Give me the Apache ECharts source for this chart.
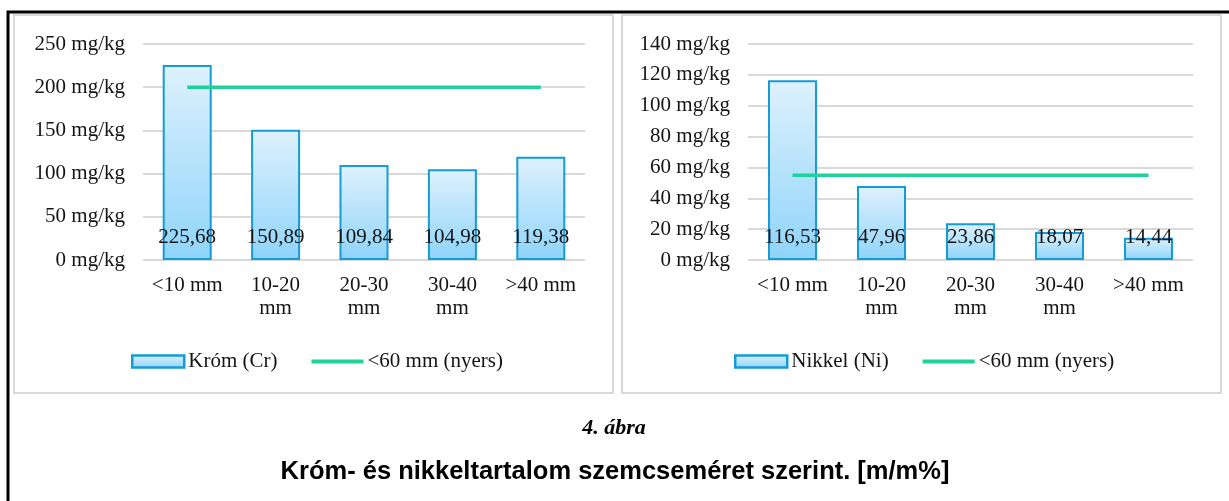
<!DOCTYPE html>
<html>
<head>
<meta charset="utf-8">
<script src="https://cdn.jsdelivr.net/npm/echarts@6/dist/echarts.min.js"></script>
<style>
html,body{margin:0;padding:0;background:#fff;}
#chart{width:1229px;height:501px;}
</style>
</head>
<body>
<div id="chart"></div>
<script>
// ---- data ----
const categories = ['<10 mm', '10-20\nmm', '20-30\nmm', '30-40\nmm', '>40 mm'];
const chromium = [225.68, 150.89, 109.84, 104.98, 119.38];
const chromiumRef = [200, 200, 200, 200, 200];
const nickel = [116.53, 47.96, 23.86, 18.07, 14.44];
const nickelRef = [55, 55, 55, 55, 55];
const leftTicks = { min: 0, max: 250, interval: 50 };
const rightTicks = { min: 0, max: 140, interval: 20 };
const seriesNames = { cr: 'Króm (Cr)', ni: 'Nikkel (Ni)', ref: '<60 mm (nyers)' };
const captionLabel = '4. ábra';
const captionTitle = 'Króm- és nikkeltartalom szemcseméret szerint. [m/m%]';

// ---- styles ----
const serif = '"Liberation Serif", "Times New Roman", serif';
const fs = 21;
const txt = '#141414';
const barGrad = new echarts.graphic.LinearGradient(0, 0, 0, 1, [
  { offset: 0, color: '#def1fd' },
  { offset: 1, color: '#8fd4fa' }
]);
const barItem = { color: barGrad, borderColor: '#159bd8', borderWidth: 2 };
const greenLine = { color: '#1fd29a', width: 3.5 };
const fmt = v => v.toFixed(2).replace('.', ',');

function xAxis(gi) {
  return {
    type: 'category', gridIndex: gi, data: categories,
    axisLine: { show: false }, axisTick: { show: false },
    axisLabel: { fontFamily: serif, fontSize: fs, color: txt, lineHeight: 23, margin: 14, interval: 0 }
  };
}
function yAxis(gi, t) {
  return {
    type: 'value', gridIndex: gi, min: t.min, max: t.max, interval: t.interval,
    axisLine: { show: false }, axisTick: { show: false },
    splitLine: { lineStyle: { color: '#d9d9d9', width: 2 } },
    axisLabel: { fontFamily: serif, fontSize: fs, color: txt, margin: 18, formatter: '{value} mg/kg' }
  };
}
function barSeries(name, gi, data) {
  return {
    name, type: 'bar', xAxisIndex: gi, yAxisIndex: gi, data,
    barWidth: 49, itemStyle: barItem,
    label: { show: true, position: 'insideBottom', distance: 12, formatter: p => fmt(p.value),
      fontFamily: serif, fontSize: fs, color: txt },
    emphasis: { disabled: true }
  };
}
function lineSeries(name, gi, data) {
  return {
    name, type: 'line', xAxisIndex: gi, yAxisIndex: gi, data,
    symbol: 'none', lineStyle: greenLine, itemStyle: { color: greenLine.color },
    z: 5, emphasis: { disabled: true }
  };
}
function legend(left, barName) {
  return {
    left, top: 351, padding: 0, itemWidth: 52, itemHeight: 12, itemGap: 32,
    data: [
      { name: barName, icon: 'rect', itemStyle: { borderWidth: 2.5, borderColor: '#159bd8' } },
      { name: seriesNames.ref, itemStyle: { opacity: 0 }, lineStyle: { width: 4, color: greenLine.color } }
    ],
    textStyle: { fontFamily: serif, fontSize: fs, color: txt, padding: [0, 0, 0, -1] },
    selectedMode: false
  };
}

const chart = echarts.init(document.getElementById('chart'), null, { renderer: 'canvas' });
chart.setOption({
  backgroundColor: '#fff',
  animation: false,
  grid: [
    { left: 143, top: 44, width: 442, height: 216 },
    { left: 748, top: 44, width: 445, height: 216 }
  ],
  xAxis: [xAxis(0), xAxis(1)],
  yAxis: [yAxis(0, leftTicks), yAxis(1, rightTicks)],
  legend: [legend(131, seriesNames.cr), legend(734, seriesNames.ni)],
  series: [
    barSeries(seriesNames.cr, 0, chromium),
    lineSeries(seriesNames.ref, 0, chromiumRef),
    barSeries(seriesNames.ni, 1, nickel),
    lineSeries(seriesNames.ref, 1, nickelRef)
  ],
  graphic: [
    { type: 'rect', shape: { x: 8, y: 12, width: 1260, height: 600 }, style: { fill: 'none', stroke: '#000', lineWidth: 3 }, silent: true },
    { type: 'rect', shape: { x: 14, y: 15, width: 599, height: 378 }, style: { fill: 'none', stroke: '#d9d9d9', lineWidth: 2 }, silent: true },
    { type: 'rect', shape: { x: 622, y: 15, width: 599, height: 378 }, style: { fill: 'none', stroke: '#d9d9d9', lineWidth: 2 }, silent: true },
    { type: 'text', x: 614, y: 428, style: { text: captionLabel, font: 'italic bold 22px ' + serif, fill: '#000', align: 'center', verticalAlign: 'middle' }, silent: true },
    { type: 'text', x: 615, y: 472, style: { text: captionTitle, font: 'bold 25.5px "Liberation Sans", Arial, sans-serif', fill: '#000', align: 'center', verticalAlign: 'middle' }, silent: true }
  ]
});
</script>
</body>
</html>
